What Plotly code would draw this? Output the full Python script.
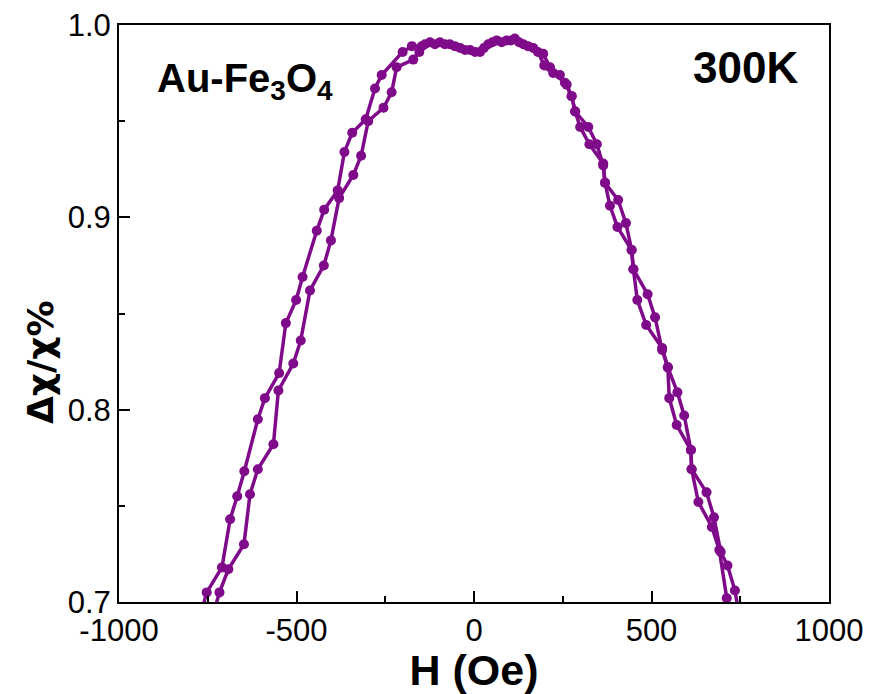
import plotly.graph_objects as go

# Branch 1 (outer on the negative-field side)
H1 = [-775, -753, -710, -687, -667, -647, -609, -589, -549, -530, -501, -483, -443, -422,
      -384, -365, -343, -305, -279, -260, -201, -175, -147, -124, -96, -68, -39, -11, 17,
      40, 64, 92, 115, 139, 167, 195, 214, 242, 261, 275, 285, 299, 325, 364, 369, 383,
      404, 444, 449, 460, 485, 530, 546, 550, 571, 611, 613, 632, 670, 691, 712, 705]
C1 = [0.690, 0.705, 0.718, 0.743, 0.755, 0.768, 0.795, 0.806, 0.819, 0.845, 0.857, 0.869,
      0.893, 0.904, 0.914, 0.934, 0.944, 0.951, 0.967, 0.974, 0.986, 0.989, 0.989, 0.991,
      0.991, 0.990, 0.988, 0.987, 0.986, 0.990, 0.992, 0.992, 0.993, 0.990, 0.988, 0.985,
      0.978, 0.974, 0.969, 0.963, 0.955, 0.947, 0.938, 0.928, 0.918, 0.906, 0.895, 0.883,
      0.873, 0.857, 0.844, 0.832, 0.822, 0.806, 0.792, 0.779, 0.769, 0.752, 0.739, 0.727,
      0.702, 0.690]

# Branch 2 (inner on the negative-field side)
H2 = [-740, -717, -692, -648, -631, -609, -565, -551, -509, -488, -462, -423, -403, -380,
      -340, -318, -298, -255, -232, -218, -171, -154, -138, -110, -82, -54, -25, 3, 28,
      52, 78, 104, 127, 152, 180, 198, 223, 256, 275, 285, 322, 346, 364, 369, 406, 428,
      444, 449, 489, 510, 530, 546, 573, 592, 611, 613, 655, 676, 695, 714, 735, 750]
C2 = [0.690, 0.705, 0.717, 0.730, 0.756, 0.769, 0.782, 0.810, 0.824, 0.836, 0.862, 0.875,
      0.888, 0.910, 0.922, 0.932, 0.950, 0.957, 0.965, 0.978, 0.982, 0.986, 0.990, 0.990,
      0.990, 0.989, 0.987, 0.986, 0.988, 0.991, 0.991, 0.992, 0.991, 0.989, 0.986, 0.979,
      0.975, 0.970, 0.963, 0.955, 0.947, 0.938, 0.927, 0.918, 0.909, 0.897, 0.883, 0.873,
      0.860, 0.848, 0.831, 0.822, 0.809, 0.797, 0.779, 0.769, 0.757, 0.744, 0.726, 0.719,
      0.706, 0.690]

x_ticks = [-1000, -500, 0, 500, 1000]
y_ticks = [0.7, 0.8, 0.9, 1.0]
y_tick_text = ["0.7", "0.8", "0.9", "1.0"]

COLOR = "#7f0a8a"
FONT = "Liberation Sans, Arial, sans-serif"

fig = go.Figure()
for hx, cy in [(H1, C1), (H2, C2)]:
    fig.add_trace(go.Scatter(
        x=hx, y=cy, mode="lines+markers",
        line=dict(color=COLOR, width=3.5),
        marker=dict(color=COLOR, size=10),
        showlegend=False, cliponaxis=True,
    ))

W, Ht = 871, 694
L, R, T, B = 119, 42, 25, 92

fig.update_layout(
    width=W, height=Ht,
    margin=dict(l=L, r=R, t=T, b=B),
    paper_bgcolor="white", plot_bgcolor="white",
    font=dict(family=FONT, color="black"),
    annotations=[
        dict(x=-900, y=0.971, xref="x", yref="y", xanchor="left", yanchor="middle",
             text="<b>Au-Fe<sub>3</sub>O<sub>4</sub></b>", showarrow=False,
             font=dict(size=40, family=FONT, color="black")),
        dict(x=918, y=0.978, xref="x", yref="y", xanchor="right", yanchor="middle",
             text="<b>300K</b>", showarrow=False,
             font=dict(size=44, family=FONT, color="black")),
        # y-axis title, placed as in the reference (centred a little below mid-plot)
        dict(x=(40 - L) / (W - L - R), y=(Ht - B - 362) / (Ht - T - B),
             xref="paper", yref="paper", xanchor="center", yanchor="middle",
             text="<b>Δχ/χ%</b>", textangle=-90, showarrow=False,
             font=dict(size=36, family="DejaVu Sans, sans-serif", color="black")),
    ],
)

fig.update_xaxes(
    range=[-1000, 1000], tickvals=x_ticks, ticktext=[str(v) for v in x_ticks],
    ticks="inside", ticklen=11, tickwidth=1.5, tickcolor="black",
    minor=dict(ticks="inside", ticklen=6, tickwidth=1.5, tickcolor="black", dtick=250, tick0=0),
    showline=True, linecolor="black", linewidth=2, mirror=True,
    showgrid=False, zeroline=False, automargin=False,
    tickfont=dict(size=31, family=FONT, color="black"),
    title=dict(text="<b>H (Oe)</b>", font=dict(size=43, family=FONT, color="black"), standoff=0),
)
fig.update_yaxes(
    range=[0.7, 1.0], tickvals=y_ticks, ticktext=y_tick_text,
    ticks="inside", ticklen=11, tickwidth=1.5, tickcolor="black",
    minor=dict(ticks="inside", ticklen=6, tickwidth=1.5, tickcolor="black", dtick=0.05, tick0=0),
    showline=True, linecolor="black", linewidth=2, mirror=True,
    showgrid=False, zeroline=False, automargin=False,
    tickfont=dict(size=31, family=FONT, color="black"),
)

fig.write_html("out.html")
